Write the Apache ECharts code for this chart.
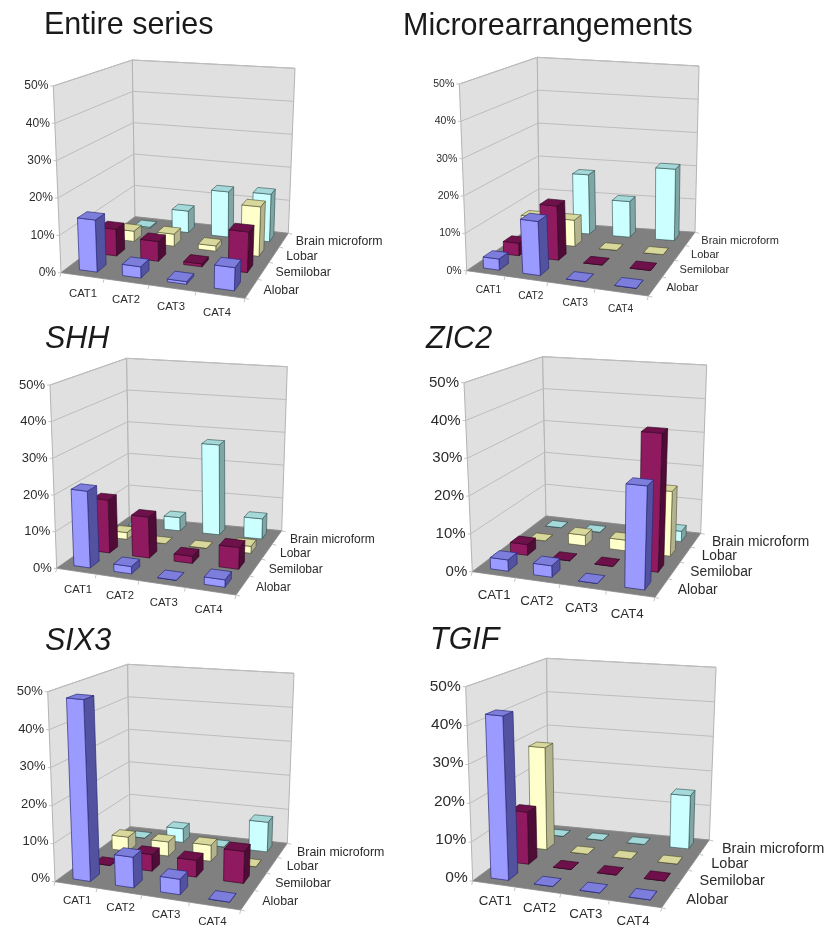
<!DOCTYPE html>
<html><head><meta charset="utf-8">
<style>html,body{margin:0;padding:0;background:#fff}#c{width:824px;height:928px;filter:blur(.45px)}</style>
<script src="https://cdn.jsdelivr.net/npm/echarts@6/dist/echarts.min.js"></script>
</head><body><div id="c"></div>
<script>
const categories = ['CAT1','CAT2','CAT3','CAT4'];
const rowNames = ['Alobar','Semilobar','Lobar','Brain microform'];
const yTicks = [0,10,20,30,40,50];
// rows: Alobar, Semilobar, Lobar, Brain microform; columns CAT1..CAT4 (percent)
const entireSeries = [[14,3,0.7,6],[7.5,5.5,0.8,11],[3,3.5,1.5,14],[0.3,6.5,13.5,14]];
const microSeries  = [[3,14.5,0,0],[3.5,15,0,0],[7.5,7.5,0,0],[0,17.5,10.5,21]];
const shhSeries    = [[21,2,0,2],[15,11.5,2,6],[2,0,0,2],[0.3,4,27,6]];
const zic2Series   = [[3,3,0,26.5],[3,0,0,37],[0,3,3,18],[0,0,0,3]];
const six3Series   = [[48,8,4,0],[0,4.5,4.5,8.5],[4,4,4.5,0],[0,4,0,8.5]];
const tgifSeries   = [[42.5,0,0,0],[14,0,0,0],[28.5,0,0,0],[0,0,0,15]];

const faceColors = [
  {front:'#9A9AFF',side:'#5252A0',top:'#7D7DDB',ink:'rgba(40,40,120,.85)'},
  {front:'#8F1A60',side:'#4E0C36',top:'#6E114A',ink:'rgba(50,5,35,.8)'},
  {front:'#FFFFCC',side:'#B3B390',top:'#D8D89C',ink:'rgba(70,70,40,.7)'},
  {front:'#CCFFFF',side:'#7FA5A5',top:'#A5D8D8',ink:'rgba(40,70,70,.7)'}
];
// layout of each panel: floor corners and wall tops in page pixels
const panels = [
 {title:'Entire series',italic:false,tx:44,ty:26,data:entireSeries,fs:12,cfs:11.3,rfs:12.3,rdx:12,
  A:[61,272.7],At:[53.3,86],B:[135,216.7],Bt:[132.3,60],C:[288.3,233.3],Ct:[295,68.3],D:[245,298.3]},
 {title:'Microrearrangements',italic:false,tx:403,ty:27,data:microSeries,fs:10.5,cfs:10.2,rfs:11,rdx:11,
  A:[466.7,270.7],At:[459.3,84],B:[539.3,221.7],Bt:[537.3,57.3],C:[695,232.3],Ct:[699,66],D:[648.3,296]},
 {title:'SHH',italic:true,tx:45,ty:340,data:shhSeries,fs:13,cfs:11.3,rfs:12,rdx:13,
  A:[56.7,568.3],At:[50,385],B:[129.3,516.7],Bt:[126.7,358.3],C:[281.7,530.7],Ct:[287.3,366.7],D:[236,595]},
 {title:'ZIC2',italic:true,tx:426,ty:340,data:zic2Series,fs:15,cfs:13.3,rfs:13.8,rdx:16,
  A:[472.3,571.7],At:[464,382.7],B:[546,516],Bt:[542.7,356.7],C:[700.7,533.3],Ct:[706.7,365],D:[655,597.3]},
 {title:'SIX3',italic:true,tx:45,ty:642,data:six3Series,fs:13,cfs:11.5,rfs:12.4,rdx:14.5,
  A:[55,881.7],At:[47.7,691.7],B:[130,826.7],Bt:[127.7,664.3],C:[287.3,843.3],Ct:[294,673.3],D:[240.7,910]},
 {title:'TGIF',italic:true,tx:430,ty:641,data:tgifSeries,fs:15.5,cfs:13.3,rfs:14.5,rdx:17.5,
  A:[472.7,881],At:[465.7,686.7],B:[548.3,825],Bt:[546.7,658.3],C:[709.3,840],Ct:[716,667.3],D:[661.7,907.7]}
];
const FONT = '"Liberation Sans", Arial, sans-serif';
const TEXT = '#2b2b2b';

function homography(p00,p10,p11,p01){
  const dx1=p10[0]-p11[0],dx2=p01[0]-p11[0],sx=p00[0]-p10[0]+p11[0]-p01[0];
  const dy1=p10[1]-p11[1],dy2=p01[1]-p11[1],sy=p00[1]-p10[1]+p11[1]-p01[1];
  const det=dx1*dy2-dx2*dy1;
  const g=(sx*dy2-dx2*sy)/det,h=(dx1*sy-sx*dy1)/det;
  const a=p10[0]-p00[0]+g*p10[0],b=p01[0]-p00[0]+h*p01[0],c=p00[0];
  const d=p10[1]-p00[1]+g*p10[1],e=p01[1]-p00[1]+h*p01[1],f=p00[1];
  return (u,v)=>{const w=g*u+h*v+1;return [(a*u+b*v+c)/w,(d*u+e*v+f)/w];};
}
function projector(p){
  const r=(p.A[1]-p.At[1])/(p.B[1]-p.Bt[1]);
  const Dt=[p.D[0]+(p.Ct[0]-p.C[0])*r, p.D[1]+(p.Ct[1]-p.C[1])*r];
  const floor=homography(p.A,p.D,p.C,p.B), roof=homography(p.At,Dt,p.Ct,p.Bt);
  return (u,v,h)=>{const a=floor(u,v),b=roof(u,v);return [a[0]+(b[0]-a[0])*h,a[1]+(b[1]-a[1])*h];};
}
const poly=(pts,fill,stroke,lw)=>({type:'polygon',shape:{points:pts},style:{fill:fill,stroke:stroke||'none',lineWidth:lw||0}});
const seg=(a,b,c,lw)=>({type:'line',shape:{x1:a[0],y1:a[1],x2:b[0],y2:b[1]},style:{stroke:c,lineWidth:lw,fill:'none'}});

const grids=[],xAxes=[],yAxes=[],series=[],titles=[];
panels.forEach((p,pi)=>{
  const P=projector(p);
  titles.push({text:p.title,left:p.tx,top:p.ty-17,padding:0,
    textStyle:{fontFamily:FONT,fontSize:30.5,fontWeight:'normal',fontStyle:p.italic?'italic':'normal',color:'#1a1a1a',lineHeight:34}});
  grids.push({left:p.A[0],top:p.At[1],width:p.D[0]-p.A[0],height:p.A[1]-p.At[1]});
  const lean=p.A[0]-p.At[0], ySlope=(p.D[1]-p.A[1]);
  const xRich={}, dxs=[1,4,5,5];
  categories.forEach((c,i)=>{
    xRich['c'+i]={fontFamily:FONT,fontSize:p.cfs,color:TEXT,padding:[ySlope*(i+.5)/4,dxs[i]*2,0,0]};
  });
  const yRich={};
  yTicks.forEach(t=>{
    yRich['v'+t]={fontFamily:FONT,fontSize:p.fs,color:TEXT,padding:[0,lean*(t/50),0,0]};
  });
  xAxes.push({type:'category',gridIndex:pi,data:categories,axisLine:{show:false},axisTick:{show:false},splitLine:{show:false},
    axisLabel:{margin:p.cfs*0.85+2.7,interval:0,hideOverlap:false,
      formatter:(val,i)=>'{c'+i+'|'+val+'}',rich:xRich}});
  yAxes.push({type:'value',gridIndex:pi,min:0,max:50,interval:10,axisLine:{show:false},axisTick:{show:false},splitLine:{show:false},
    axisLabel:{margin:5,formatter:v=>'{v'+v+'|'+v+'%}',rich:yRich}});
  // walls, floor and gridlines
  series.push({type:'custom',name:p.title+' walls',xAxisIndex:pi,yAxisIndex:pi,z:1,silent:true,animation:false,
    data:yTicks.map(t=>[0,t]),
    renderItem:(params,api)=>{
      const cs=params.coordSys, h=(cs.y+cs.height-api.coord([0,api.value(1)])[1])/cs.height, ch=[];
      const wall='#E0E0E0', edge='#B4B4B4', line='#BDBDBD';
      if(params.dataIndex===0){
        ch.push(poly([P(0,0,0),P(0,1,0),P(0,1,1),P(0,0,1)],wall,edge,1));
        ch.push(poly([P(0,1,0),P(1,1,0),P(1,1,1),P(0,1,1)],wall,edge,1));
        ch.push(poly([P(0,0,0),P(1,0,0),P(1,1,0),P(0,1,0)],'#808080','#8a8a8a',0.8));
        for(let i=0;i<=4;i++){const a=P(i/4,0,0);ch.push(seg(a,[a[0]-1,a[1]+4],'#c4c4c4',1));}
        for(let i=0;i<=4;i++){const a=P(1,i/4,0);ch.push(seg(a,[a[0]+4,a[1]+1],'#c4c4c4',1));}
      } else {
        ch.push(seg(P(0,0,h),P(0,1,h),line,1));
        ch.push(seg(P(0,1,h),P(1,1,h),line,1));
      }
      const a=P(0,0,h);ch.push(seg(a,[a[0]-3,a[1]],'#c4c4c4',1));
      return {type:'group',children:ch};
    }});
  // one custom series per depth row, drawn back to front
  [3,2,1,0].forEach(row=>{
    const c=faceColors[row];
    series.push({type:'custom',name:rowNames[row],xAxisIndex:pi,yAxisIndex:pi,z:2+(3-row),silent:true,animation:false,
      data:p.data[row].map((v,i)=>[i,v]),
      renderItem:(params,api)=>{
        const cs=params.coordSys, cat=api.value(0), val=api.value(1);
        const u=(api.coord([cat,0])[0]-cs.x)/cs.width;
        const h=(cs.y+cs.height-api.coord([cat,val])[1])/cs.height;
        const v=(row+.5)/4, hw=.052, hd=.056;
        const u0=u-hw,u1=u+hw,v0=v-hd,v1=v+hd;
        const ink=c.ink;
        const ch=[
          poly([P(u1,v0,0),P(u1,v1,0),P(u1,v1,h),P(u1,v0,h)],c.side,ink,.8),
          poly([P(u0,v0,0),P(u1,v0,0),P(u1,v0,h),P(u0,v0,h)],c.front,ink,.8),
          poly([P(u0,v0,h),P(u1,v0,h),P(u1,v1,h),P(u0,v1,h)],c.top,ink,.8)
        ];
        if(params.dataIndex===3){
          const e=P(1,v,0);
          ch.push({type:'text',style:{x:e[0]+p.rdx,y:e[1]+2,text:rowNames[row],fill:TEXT,
            font:p.rfs+'px '+FONT,textAlign:'left',textVerticalAlign:'middle'}});
        }
        return {type:'group',children:ch};
      }});
  });
});
const chart=echarts.init(document.getElementById('c'),null,{width:824,height:928,renderer:'canvas'});
chart.setOption({backgroundColor:'#fff',animation:false,title:titles,grid:grids,xAxis:xAxes,yAxis:yAxes,series:series,tooltip:{show:false}});
</script></body></html>
